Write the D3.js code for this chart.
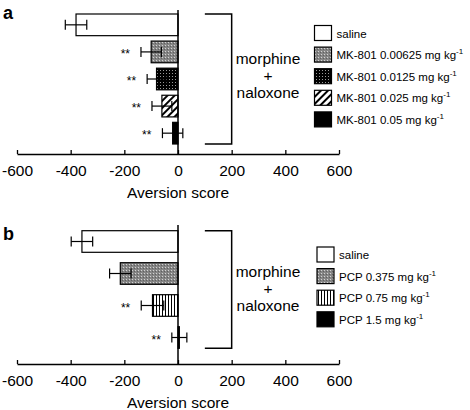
<!DOCTYPE html>
<html><head><meta charset="utf-8">
<script src="https://cdn.jsdelivr.net/npm/d3@7/dist/d3.min.js"></script>
<style>
body{margin:0;background:#fff;}
svg{display:block;font-family:"Liberation Sans",Arial,Helvetica,sans-serif;}
</style></head>
<body>
<svg id="chart" width="470" height="410"></svg>
<script>
// ---- data ----
const xTicks = [-600, -400, -200, 0, 200, 400, 600];
const catsA = ["saline", "MK-801 0.00625", "MK-801 0.0125", "MK-801 0.025", "MK-801 0.05"];
const valsA = [-380, -100, -80, -60, -20];
const errsA = [40, 38, 35, 37, 38];
const sigA  = ["", "**", "**", "**", "**"];
const patsA = ["white", "grayDots", "blackDots", "diag", "black"];
const legendA = ["saline", "MK-801 0.00625 mg kg", "MK-801 0.0125 mg kg", "MK-801 0.025 mg kg", "MK-801 0.05 mg kg"];

const catsB = ["saline", "PCP 0.375", "PCP 0.75", "PCP 1.5"];
const valsB = [-358, -215, -95, 5];
const errsB = [40, 40, 42, 28];
const sigB  = ["", "", "**", "**"];
const patsB = ["white", "grayDots", "vert", "black"];
const legendB = ["saline", "PCP 0.375 mg kg", "PCP 0.75 mg kg", "PCP 1.5 mg kg"];

const svg = d3.select("#chart");
const defs = svg.append("defs");

// patterns
function pat(id, w, h, build, transform) {
  const p = defs.append("pattern").attr("id", id).attr("patternUnits", "userSpaceOnUse")
    .attr("width", w).attr("height", h);
  if (transform) p.attr("patternTransform", transform);
  build(p);
}
pat("grayDots", 3, 3, p => {
  p.append("rect").attr("width", 3).attr("height", 3).attr("fill", "#858585");
  p.append("rect").attr("x", 0).attr("y", 0).attr("width", 1).attr("height", 1).attr("fill", "#d2d2d2");
  p.append("rect").attr("x", 2).attr("y", 1).attr("width", 1).attr("height", 1).attr("fill", "#606060");
});
pat("blackDots", 3, 3, p => {
  p.append("rect").attr("width", 3).attr("height", 3).attr("fill", "#000");
  p.append("rect").attr("x", 1).attr("y", 1).attr("width", 1).attr("height", 1).attr("fill", "#9a9a9a");
});
pat("diag", 5, 5, p => {
  p.append("rect").attr("width", 5).attr("height", 5).attr("fill", "#fff");
  p.append("rect").attr("x", 0).attr("y", 0).attr("width", 2).attr("height", 5).attr("fill", "#000");
}, "rotate(45)");
pat("vert", 3, 3, p => {
  p.append("rect").attr("width", 3).attr("height", 3).attr("fill", "#fff");
  p.append("rect").attr("x", 0).attr("y", 0).attr("width", 1).attr("height", 3).attr("fill", "#000");
});
const fillOf = k => k === "white" ? "#fff" : k === "black" ? "#000" : `url(#${k})`;

const x = d3.scaleLinear().domain([-600, 600]).range([17, 339]);

function panel(opts) {
  const {cats, vals, errs, sig, pats, legend, bandRange, zeroTop, axisY, letter, letterY, legendX, legendTop, legendStep, textMid} = opts;
  const g = svg.append("g");
  const y = d3.scaleBand().domain(cats).range(bandRange).paddingInner(opts.pad).paddingOuter(0);

  // bars
  g.selectAll("rect.bar").data(cats).join("rect")
    .attr("x", (d, i) => x(Math.min(0, vals[i])))
    .attr("width", (d, i) => Math.abs(x(vals[i]) - x(0)))
    .attr("y", d => y(d)).attr("height", y.bandwidth())
    .attr("fill", (d, i) => fillOf(pats[i]))
    .attr("stroke", "#000").attr("stroke-width", 1.2);

  // error bars
  cats.forEach((c, i) => {
    const cy = y(c) + y.bandwidth() / 2;
    const x1 = x(vals[i] - errs[i]), x2 = x(vals[i] + errs[i]);
    g.append("line").attr("x1", x1).attr("x2", x2).attr("y1", cy).attr("y2", cy)
      .attr("stroke", "#000").attr("stroke-width", 1.2);
    [x1, x2].forEach(xx => g.append("line").attr("x1", xx).attr("x2", xx)
      .attr("y1", cy - 5).attr("y2", cy + 5).attr("stroke", "#000").attr("stroke-width", 1.2));
    if (sig[i]) {
      g.append("text").attr("x", x1 - 11).attr("y", cy + 6).attr("text-anchor", "end")
        .attr("font-size", 12).text(sig[i]);
    }
  });

  // zero line
  g.append("line").attr("x1", x(0)).attr("x2", x(0)).attr("y1", zeroTop).attr("y2", axisY)
    .attr("stroke", "#000").attr("stroke-width", 1.5);

  // axis
  const ax = g.append("g").attr("transform", `translate(0,${axisY})`)
    .call(d3.axisBottom(x).tickValues(xTicks).tickFormat(d3.format("d")).tickSize(-4).tickSizeOuter(0).tickPadding(11));
  ax.select(".domain").attr("stroke-width", 1.6);
  ax.selectAll(".tick line").attr("stroke-width", 1.3);
  ax.selectAll(".tick text").attr("font-size", 15.5).attr("font-family", "Liberation Sans, Arial, sans-serif")
    .text(d => d < 0 ? "-" + Math.abs(d) : d);
  g.append("text").attr("x", x(0)).attr("y", axisY + 44).attr("text-anchor", "middle")
    .attr("font-size", 15.5).text("Aversion score");

  // bracket
  const top = y(cats[0]), bot = y(cats[cats.length - 1]) + y.bandwidth();
  g.append("path").attr("d", `M${x(100)},${top}H${x(200)}V${bot}H${x(100)}`)
    .attr("fill", "none").attr("stroke", "#000").attr("stroke-width", 1.5);
  const tm = g.append("text").attr("text-anchor", "middle").attr("font-size", 15.5);
  tm.append("tspan").attr("x", 268).attr("y", textMid - 15).text("morphine");
  tm.append("tspan").attr("x", 268).attr("y", textMid + 2).text("+");
  tm.append("tspan").attr("x", 268).attr("y", textMid + 19).text("naloxone");

  // letter
  g.append("text").attr("x", 3).attr("y", letterY).attr("font-size", 18).attr("font-weight", "bold").text(letter);

  // legend
  legend.forEach((l, i) => {
    const ty = legendTop + i * legendStep;
    g.append("rect").attr("x", legendX).attr("y", ty).attr("width", 17).attr("height", 15)
      .attr("fill", fillOf(pats[i])).attr("stroke", "#000").attr("stroke-width", 1.2);
    const t = g.append("text").attr("x", legendX + 22).attr("y", ty + 12).attr("font-size", 11.5);
    t.append("tspan").text(l);
    if (i > 0) t.append("tspan").attr("dy", -5).attr("font-size", 8).text("-1");
  });
}

panel({cats: catsA, vals: valsA, errs: errsA, sig: sigA, pats: patsA, legend: legendA,
  bandRange: [14, 144], pad: 0.2, zeroTop: 10, axisY: 154, letter: "a", letterY: 19,
  legendX: 314.5, legendTop: 25.5, legendStep: 21.6, textMid: 79});
panel({cats: catsB, vals: valsB, errs: errsB, sig: sigB, pats: patsB, legend: legendB,
  bandRange: [230.7, 348.3], pad: 0.325, zeroTop: 225, axisY: 364, letter: "b", letterY: 240,
  legendX: 317, legendTop: 247, legendStep: 21.6, textMid: 292});
</script>
</body></html>
